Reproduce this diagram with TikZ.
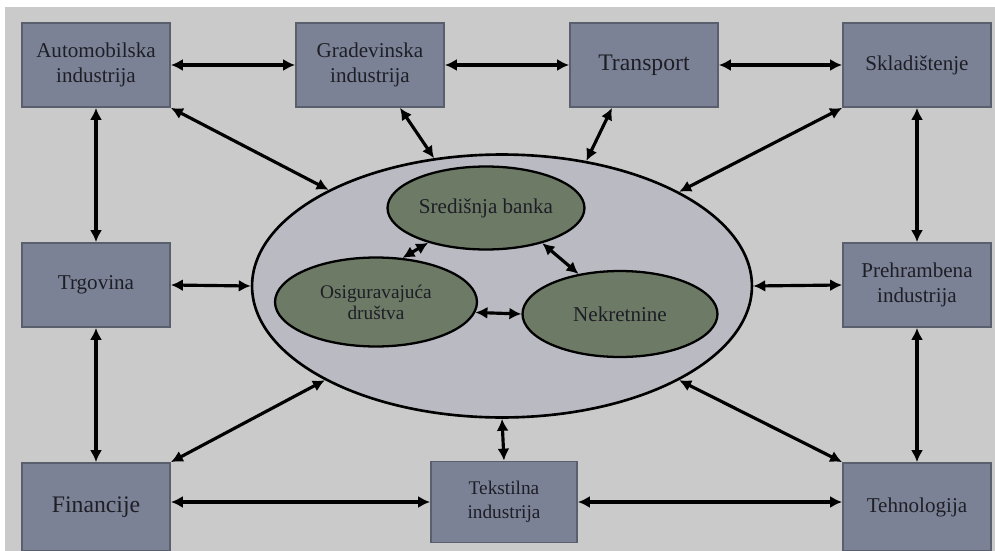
\documentclass[tikz,border=0pt]{standalone}
\usepackage{fontspec}
\setmainfont{Liberation Serif}
\usetikzlibrary{arrows.meta,shapes.geometric}
\definecolor{bgGrey}{HTML}{CACACA}
\definecolor{boxGrey}{HTML}{7C8296}
\definecolor{boxEdge}{HTML}{5A5F6E}
\definecolor{ovalGrey}{HTML}{B9BAC2}
\definecolor{ovalGreen}{HTML}{6D7A66}
\definecolor{inkGrey}{HTML}{1E1E26}

\begin{document}
\begin{tikzpicture}[x=0.02cm, y=-0.02cm]
  \tikzset{sector/.style={draw=boxEdge, line width=1pt, fill=boxGrey, text=inkGrey,
      minimum width=2.96cm, minimum height=1.68cm, align=center, inner sep=1pt,
      font=\fontsize{12}{14}\selectfont},
    core/.style={ellipse, draw=black, line width=1.3pt, fill=ovalGreen, text=inkGrey,
      inner sep=0pt, align=center, font=\fontsize{12}{13}\selectfont},
    link/.style={{Latex[length=2.4mm,width=2.4mm]}-{Latex[length=2.4mm,width=2.4mm]},
      line width=1.8pt, black}}
  \useasboundingbox (0,0) rectangle (995,551);
  \fill[white] (0,0) rectangle (995,551);
  \fill[bgGrey] (5,7) rectangle (995,551);
  \node[ellipse, draw=black, line width=1.5pt, fill=ovalGrey,
    minimum width=10cm, minimum height=5.26cm](market) at (502,286) {};
  \node[core, minimum width=3.94cm, minimum height=1.66cm](bank) at (486,208) {Središnja banka};
  \node[core, minimum width=4.04cm, minimum height=1.78cm,
    font=\fontsize{11}{12}\selectfont](insur) at (376,302) {Osiguravajuća\\društva};
  \node[core, minimum width=3.9cm, minimum height=1.72cm](estate) at (620,314) {Nekretnine};
  \node[sector](auto) at (96,65) {Automobilska\\industrija};
  \node[sector](build) at (370,65) {Gradevinska\\industrija};
  \node[sector, font=\fontsize{13.5}{15}\selectfont](trans) at (644,65) {Transport};
  \node[sector](store) at (917,65) {Skladištenje};
  \node[sector](trade) at (96,285) {Trgovina};
  \node[sector](food) at (917,285) {Prehrambena\\industrija};
  \node[sector, minimum height=1.76cm, font=\fontsize{13.5}{15}\selectfont](fin) at (96,507) {Financije};
  \node[sector, minimum width=2.92cm, minimum height=1.62cm,
    font=\fontsize{11}{14}\selectfont](tex) at (504,502) {Tekstilna\\industrija};
  \node[sector, minimum height=1.76cm](tech) at (917,507) {Tehnologija};
  \draw[link] (auto) -- (build);
  \draw[link] (build) -- (trans);
  \draw[link] (trans) -- (store);
  \draw[link] (auto) -- (trade);
  \draw[link] (trade) -- (fin);
  \draw[link] (store) -- (food);
  \draw[link] (food) -- (tech);
  \draw[link] (fin.east |- tex.west) -- (tex.west);
  \draw[link] (tex.east) -- (tech.west |- tex.east);
  \draw[link] (auto.south east) -- (market.151);
  \draw[link] (build.south -| 400,0) -- (market.118);
  \draw[link] (trans.south -| 612,0) -- (market.56);
  \draw[link] (store.south west) -- (market.28);
  \draw[link] (trade.east) -- (market.west);
  \draw[link] (food.west) -- (market.east);
  \draw[link] (fin.north east) -- (market.208);
  \draw[link] (tech.north west) -- (market.332);
  \draw[link] (tex.north) -- (market.south);
  \draw[link] (bank.211) -- (insur.59);
  \draw[link] (bank.328) -- (estate.136);
  \draw[link] (insur.-6) -- (estate.west);
\end{tikzpicture}
\end{document}
